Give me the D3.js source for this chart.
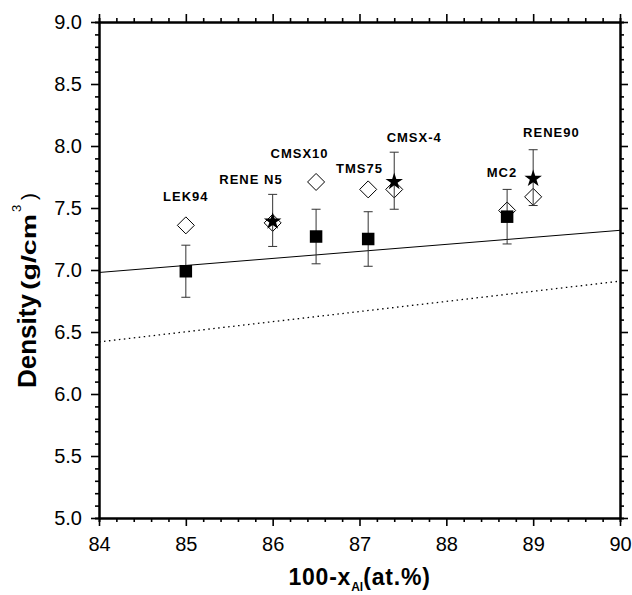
<!DOCTYPE html>
<html>
<head>
<meta charset="utf-8">
<script src="https://cdn.jsdelivr.net/npm/d3@7"></script>
<style>
  body { margin: 0; background: #fff; }
  text { font-family: Arial, "Liberation Sans", sans-serif; }
</style>
</head>
<body>
<div id="chart"></div>
<script>
// alloy names and where their labels sit (data units)
const alloyNames = ["LEK94", "RENE N5", "CMSX10", "TMS75", "CMSX-4", "MC2", "RENE90"];
const labelX = [85.0, 85.75, 86.31, 87.0, 87.63, 88.64, 89.21];
const labelY = [7.56, 7.69, 7.90, 7.78, 8.03, 7.75, 8.07];

// open diamonds
const diamondX = [85.0, 86.0, 86.5, 87.1, 87.4, 88.7, 89.0];
const diamondY = [7.36, 7.38, 7.71, 7.65, 7.65, 7.48, 7.59];

// filled squares with error bars
const squareX = [85.0, 86.5, 87.1, 88.7];
const squareY = [6.99, 7.27, 7.25, 7.43];
const squareErr = [0.21, 0.22, 0.22, 0.22];

// stars with error bars
const starX = [86.0, 87.4, 89.0];
const starY = [7.40, 7.72, 7.745];
const starErr = [0.21, 0.23, 0.225];

// the two straight lines
const lineX = [84, 90];
const solidY = [6.98, 7.32];
const dottedY = [6.42, 6.91];

const xTicks = [84, 85, 86, 87, 88, 89, 90];
const yTicks = [5.0, 5.5, 6.0, 6.5, 7.0, 7.5, 8.0, 8.5, 9.0];

const width = 632, height = 595;
const margin = {top: 22, right: 12, bottom: 77, left: 99};

const svg = d3.select("#chart").append("svg")
    .attr("width", width)
    .attr("height", height);

const x = d3.scaleLinear().domain([84, 90]).range([margin.left, width - margin.right]);
const y = d3.scaleLinear().domain([5, 9]).range([height - margin.bottom, margin.top]);

const xMinor = d3.range(84, 90.001, 0.2).filter(v => Math.abs(v - Math.round(v)) > 0.01);
const yMinor = d3.range(5, 9.001, 0.1).filter(v => Math.abs(v * 2 - Math.round(v * 2)) > 0.01);

// axes on all four sides, ticks pointing out
function styleAxis(g) {
    g.select(".domain").attr("stroke-width", 2);
    g.selectAll(".tick line").attr("stroke-width", 1.6);
}

svg.append("g")
    .attr("transform", `translate(0,${y(5)})`)
    .call(d3.axisBottom(x).tickValues(xTicks).tickSize(8).tickSizeOuter(0).tickPadding(11).tickFormat(d3.format("d")))
    .call(styleAxis)
    .call(g => g.selectAll("text").attr("font-size", 20).attr("fill", "#000"));

svg.append("g")
    .attr("transform", `translate(0,${y(5)})`)
    .call(d3.axisBottom(x).tickValues(xMinor).tickSize(4).tickFormat(""))
    .call(styleAxis);

svg.append("g")
    .attr("transform", `translate(0,${y(9)})`)
    .call(d3.axisTop(x).tickValues(xTicks).tickSize(8).tickSizeOuter(0).tickFormat(""))
    .call(styleAxis);

svg.append("g")
    .attr("transform", `translate(0,${y(9)})`)
    .call(d3.axisTop(x).tickValues(xMinor).tickSize(4).tickFormat(""))
    .call(styleAxis);

svg.append("g")
    .attr("transform", `translate(${x(84)},0)`)
    .call(d3.axisLeft(y).tickValues(yTicks).tickSize(8).tickSizeOuter(0).tickPadding(9).tickFormat(d3.format(".1f")))
    .call(styleAxis)
    .call(g => g.selectAll("text").attr("font-size", 20).attr("fill", "#000"));

svg.append("g")
    .attr("transform", `translate(${x(84)},0)`)
    .call(d3.axisLeft(y).tickValues(yMinor).tickSize(4).tickFormat(""))
    .call(styleAxis);

svg.append("g")
    .attr("transform", `translate(${x(90)},0)`)
    .call(d3.axisRight(y).tickValues(yTicks).tickSize(8).tickSizeOuter(0).tickFormat(""))
    .call(styleAxis);

svg.append("g")
    .attr("transform", `translate(${x(90)},0)`)
    .call(d3.axisRight(y).tickValues(yMinor).tickSize(4).tickFormat(""))
    .call(styleAxis);

// straight lines
const line = d3.line().x(d => x(d[0])).y(d => y(d[1]));

svg.append("path")
    .attr("d", line(lineX.map((v, i) => [v, solidY[i]])))
    .attr("fill", "none")
    .attr("stroke", "#000")
    .attr("stroke-width", 1);

svg.append("path")
    .attr("d", line(lineX.map((v, i) => [v, dottedY[i]])))
    .attr("fill", "none")
    .attr("stroke", "#000")
    .attr("stroke-width", 1.3)
    .attr("stroke-dasharray", "1.5,3.5");

// open diamonds
const dr = 8.5;
svg.selectAll(".diamond")
    .data(diamondX.map((v, i) => [v, diamondY[i]]))
    .enter().append("path")
    .attr("class", "diamond")
    .attr("d", d => `M${x(d[0])},${y(d[1]) - dr}L${x(d[0]) + dr},${y(d[1])}L${x(d[0])},${y(d[1]) + dr}L${x(d[0]) - dr},${y(d[1])}Z`)
    .attr("fill", "#fff")
    .attr("stroke", "#000")
    .attr("stroke-width", 1);

// error bars
function errorBars(xs, ys, errs, cls) {
    const g = svg.append("g").attr("class", cls);
    const data = xs.map((v, i) => ({x: v, y: ys[i], e: errs[i]}));
    g.selectAll("line.v")
        .data(data)
        .enter().append("line")
        .attr("class", "v")
        .attr("x1", d => x(d.x)).attr("x2", d => x(d.x))
        .attr("y1", d => y(d.y + d.e)).attr("y2", d => y(d.y - d.e))
        .attr("stroke", "#333").attr("stroke-width", 1);
    [1, -1].forEach(s => {
        g.selectAll("line.cap" + (s > 0 ? "t" : "b"))
            .data(data)
            .enter().append("line")
            .attr("x1", d => x(d.x) - 4.5).attr("x2", d => x(d.x) + 4.5)
            .attr("y1", d => y(d.y + s * d.e)).attr("y2", d => y(d.y + s * d.e))
            .attr("stroke", "#333").attr("stroke-width", 1);
    });
}

errorBars(squareX, squareY, squareErr, "sqErr");
errorBars(starX, starY, starErr, "starErr");

// filled squares
const sq = 12.5;
svg.selectAll(".square")
    .data(squareX.map((v, i) => [v, squareY[i]]))
    .enter().append("rect")
    .attr("class", "square")
    .attr("x", d => x(d[0]) - sq / 2)
    .attr("y", d => y(d[1]) - sq / 2)
    .attr("width", sq)
    .attr("height", sq)
    .attr("fill", "#000");

// stars
svg.selectAll(".star")
    .data(starX.map((v, i) => [v, starY[i]]))
    .enter().append("path")
    .attr("class", "star")
    .attr("transform", d => `translate(${x(d[0])},${y(d[1]) + 1})`)
    .attr("d", d3.symbol().type(d3.symbolStar).size(95))
    .attr("fill", "#000");

// alloy labels
svg.selectAll(".alloy")
    .data(alloyNames)
    .enter().append("text")
    .attr("class", "alloy")
    .attr("x", (d, i) => x(labelX[i]))
    .attr("y", (d, i) => y(labelY[i]))
    .attr("text-anchor", "middle")
    .attr("font-size", 13)
    .attr("font-weight", "bold")
    .attr("letter-spacing", 1)
    .text(d => d);

// axis titles
const xt = svg.append("text")
    .attr("x", (margin.left + width - margin.right) / 2)
    .attr("y", 585)
    .attr("text-anchor", "middle")
    .attr("font-size", 23)
    .attr("font-weight", "bold")
    .attr("letter-spacing", 0.8);
xt.append("tspan").text("100-x");
xt.append("tspan").attr("font-size", 12).attr("dy", 6).attr("letter-spacing", 0).text("Al");
xt.append("tspan").attr("dy", -6).text("(at.%)");

// y title laid out piece by piece along the rotated baseline
const yt = svg.append("g")
    .attr("transform", "translate(36,388) rotate(-90)");
yt.append("text")
    .attr("font-size", 26)
    .attr("font-weight", "bold")
    .text("Density");
yt.append("text")
    .attr("x", 98)
    .attr("font-size", 21)
    .attr("font-weight", "bold")
    .attr("textLength", 76)
    .attr("lengthAdjust", "spacingAndGlyphs")
    .text("(g/cm");
yt.append("text")
    .attr("x", 176)
    .attr("y", -15)
    .attr("font-size", 13)
    .text("3");
yt.append("text")
    .attr("x", 188)
    .attr("font-size", 21)
    .text(")");
</script>
</body>
</html>
